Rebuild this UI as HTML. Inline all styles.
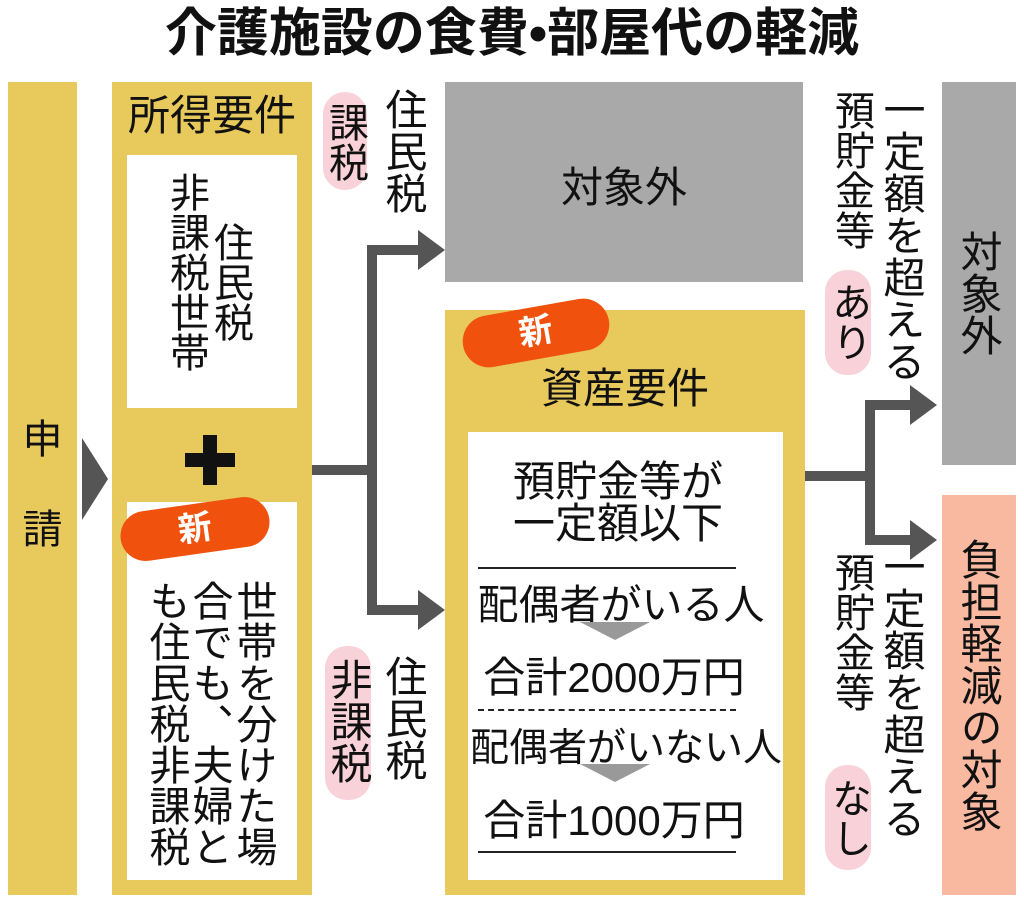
<!DOCTYPE html>
<html><head><meta charset="utf-8"><style>
*{margin:0;padding:0;box-sizing:border-box}
body{width:1024px;height:905px;background:#fff;position:relative;overflow:hidden;font-family:"Liberation Sans","Noto Sans CJK JP",sans-serif;color:#111}
.a{position:absolute}
.y{background:#e8c95c}
.w{background:#fff}
.g{background:#a9a9a9}
.v{position:absolute;writing-mode:vertical-rl;white-space:nowrap;line-height:1}
.pill{position:absolute;background:#f8d2d8;border-radius:22px}
.t{position:absolute;white-space:nowrap;text-align:center;line-height:1}
.ln{position:absolute;background:#555}
.badge{position:absolute;background:#f0520e;border-radius:30px;color:#fff;font-weight:bold;font-size:34px;text-align:center;line-height:50px}
</style></head><body>
<div class="t" style="left:0;width:1024px;top:8px;font-size:52px;font-weight:bold">介護施設の食費•部屋代の軽減</div>

<div class="a y" style="left:8px;top:82px;width:69px;height:813px"></div>
<div class="t" style="left:8px;width:69px;top:420px;font-size:40px">申</div>
<div class="t" style="left:8px;width:69px;top:510px;font-size:40px">請</div>
<svg class="a" style="left:80px;top:438px" width="30" height="82"><polygon points="2,0 28,41 2,82" fill="#555"/></svg>

<div class="a y" style="left:112px;top:82px;width:200px;height:813px"></div>
<div class="t" style="left:112px;width:200px;top:95px;font-size:42px">所得要件</div>
<div class="a w" style="left:127px;top:155px;width:170px;height:253px"></div>
<div class="v" style="left:210px;top:222px;font-size:40px">住民税</div>
<div class="v" style="left:166px;top:172px;font-size:40px">非課税世帯</div>
<div class="a" style="left:185px;top:453px;width:50px;height:14px;background:#111"></div>
<div class="a" style="left:203px;top:435px;width:14px;height:50px;background:#111"></div>
<div class="a w" style="left:127px;top:502px;width:170px;height:378px"></div>
<div class="badge" style="left:120px;top:504px;width:150px;height:50px;transform:rotate(-8deg)">新</div>
<div class="v" style="left:232px;top:580px;font-size:41px">世帯を分けた場</div>
<div class="v" style="left:188px;top:580px;font-size:41px">合でも、夫婦と</div>
<div class="v" style="left:145px;top:580px;font-size:41px">も住民税非課税</div>

<div class="pill" style="left:323px;top:92px;width:44px;height:98px"></div>
<div class="v" style="left:325px;top:102px;font-size:40px">課税</div>
<div class="v" style="left:382px;top:88px;font-size:42px">住民税</div>
<div class="pill" style="left:325px;top:646px;width:46px;height:154px"></div>
<div class="v" style="left:327px;top:658px;font-size:42px">非課税</div>
<div class="v" style="left:382px;top:655px;font-size:42px">住民税</div>

<div class="ln" style="left:312px;top:465px;width:65px;height:10px"></div>
<div class="ln" style="left:367px;top:245px;width:10px;height:370px"></div>
<div class="ln" style="left:367px;top:245px;width:55px;height:10px"></div>
<div class="ln" style="left:367px;top:605px;width:55px;height:10px"></div>
<svg class="a" style="left:418px;top:230px" width="28" height="40"><polygon points="0,0 27,20 0,40" fill="#555"/></svg>
<svg class="a" style="left:418px;top:590px" width="28" height="40"><polygon points="0,0 27,20 0,40" fill="#555"/></svg>

<div class="a g" style="left:445px;top:82px;width:358px;height:200px"></div>
<div class="t" style="left:445px;width:358px;top:167px;font-size:42px">対象外</div>

<div class="a y" style="left:445px;top:310px;width:360px;height:585px"></div>
<div class="badge" style="left:462px;top:307px;width:148px;height:52px;transform:rotate(-10deg)">新</div>
<div class="t" style="left:445px;width:360px;top:368px;font-size:42px">資産要件</div>
<div class="a w" style="left:468px;top:432px;width:315px;height:448px"></div>
<div class="t" style="left:468px;width:300px;top:461px;font-size:42px">預貯金等が</div>
<div class="t" style="left:468px;width:300px;top:503px;font-size:42px">一定額以下</div>
<div class="a" style="left:478px;top:567px;width:258px;height:2px;background:#222"></div>
<div class="t" style="left:468px;width:306px;top:585px;font-size:41px">配偶者がいる人</div>
<svg class="a" style="left:580px;top:622px" width="70" height="20"><polygon points="0,0 70,0 35,18" fill="#999"/></svg>
<div class="t" style="left:468px;width:292px;top:657px;font-size:42px">合計2000万円</div>
<div class="a" style="left:478px;top:709px;width:258px;border-top:2px dashed #222"></div>
<div class="t" style="left:468px;width:316px;top:729px;font-size:39px">配偶者がいない人</div>
<svg class="a" style="left:580px;top:764px" width="70" height="20"><polygon points="0,0 70,0 35,18" fill="#999"/></svg>
<div class="t" style="left:468px;width:292px;top:800px;font-size:42px">合計1000万円</div>
<div class="a" style="left:478px;top:851px;width:258px;height:2px;background:#222"></div>

<div class="ln" style="left:805px;top:471px;width:70px;height:10px"></div>
<div class="ln" style="left:865px;top:400px;width:10px;height:145px"></div>
<div class="ln" style="left:865px;top:400px;width:50px;height:10px"></div>
<div class="ln" style="left:865px;top:535px;width:50px;height:10px"></div>
<svg class="a" style="left:910px;top:385px" width="28" height="40"><polygon points="0,0 27,20 0,40" fill="#555"/></svg>
<svg class="a" style="left:910px;top:520px" width="28" height="40"><polygon points="0,0 27,20 0,40" fill="#555"/></svg>

<div class="v" style="left:880px;top:88px;font-size:42px">一定額を超える</div>
<div class="v" style="left:831px;top:90px;font-size:40px">預貯金等</div>
<div class="pill" style="left:825px;top:270px;width:46px;height:105px"></div>
<div class="v" style="left:828px;top:282px;font-size:40px">あり</div>
<div class="v" style="left:880px;top:545px;font-size:42px">一定額を超える</div>
<div class="v" style="left:831px;top:552px;font-size:40px">預貯金等</div>
<div class="pill" style="left:825px;top:765px;width:46px;height:105px"></div>
<div class="v" style="left:828px;top:778px;font-size:40px">なし</div>

<div class="a g" style="left:942px;top:82px;width:74px;height:383px"></div>
<div class="v" style="left:957px;top:230px;font-size:42px">対象外</div>
<div class="a" style="left:942px;top:495px;width:74px;height:400px;background:#f8b9a0"></div>
<div class="v" style="left:957px;top:538px;font-size:42px">負担軽減の対象</div>
</body></html>
